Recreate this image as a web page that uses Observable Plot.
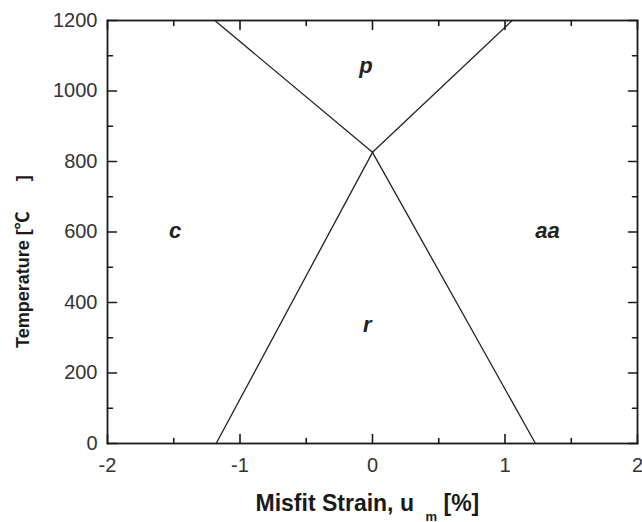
<!DOCTYPE html>
<html>
<head>
<meta charset="utf-8">
<script src="https://cdn.jsdelivr.net/npm/d3@7"></script>
<script src="https://cdn.jsdelivr.net/npm/@observablehq/plot@0.6"></script>
<style>
  body { margin: 0; background: #fff; }
</style>
</head>
<body>
<div id="chart"></div>
<script>
// Phase boundaries of the strain–temperature phase diagram (misfit strain in %, temperature in °C)
const boundaryNames = ["c/p", "p/aa", "c/r", "r/aa"];
const boundaryStrain = [[-1.19, 0], [0, 1.054], [-1.18, 0], [0, 1.23]];
const boundaryTemp = [[1200, 826], [826, 1200], [0, 826], [826, 0]];

// Phase region labels
const phaseNames = ["p", "c", "r", "aa"];
const phaseStrain = [-0.05, -1.49, -0.04, 1.32];
const phaseTemp = [1072, 604, 335, 604];

// Axis ticks
const xMajorTicks = [-2, -1, 0, 1, 2];
const xMinorTicks = [-1.5, -0.5, 0.5, 1.5];
const yMajorTicks = [0, 200, 400, 600, 800, 1000, 1200];
const yMinorTicks = [100, 300, 500, 700, 900, 1100];

const xTitle = "Misfit Strain, u";
const xTitleSub = "m";
const xTitleUnit = "[%]";
const yTitle = "Temperature [℃\u00A0\u00A0\u00A0\u00A0\u00A0\u00A0]";

const boundaryRows = boundaryNames.flatMap((name, i) =>
  boundaryStrain[i].map((s, j) => ({boundary: name, strain: s, temp: boundaryTemp[i][j]}))
);
const phaseRows = phaseNames.map((name, i) => ({phase: name, strain: phaseStrain[i], temp: phaseTemp[i]}));

const ink = "#1a1a1a";

// plot frame size in pixels, used to turn tick lengths into domain units
const W = 642, H = 522;
const M = {left: 107, right: 5, top: 20, bottom: 79};
const xDomain = [-2, 2], yDomain = [0, 1200];
const frameW = W - M.left - M.right;
const frameH = H - M.top - M.bottom;
const perPxX = (xDomain[1] - xDomain[0]) / frameW;
const perPxY = (yDomain[1] - yDomain[0]) / frameH;
const MAJOR = 9, MINOR = 5;

// short inward tick segments on all four sides, one two-point path per tick
const tickRows = [];
const addXTicks = (ticks, len) => ticks.forEach(t => {
  tickRows.push({id: `b${t}`, x: t, y: yDomain[0]}, {id: `b${t}`, x: t, y: yDomain[0] + len * perPxY});
  tickRows.push({id: `t${t}`, x: t, y: yDomain[1]}, {id: `t${t}`, x: t, y: yDomain[1] - len * perPxY});
});
const addYTicks = (ticks, len) => ticks.forEach(t => {
  tickRows.push({id: `l${t}`, x: xDomain[0], y: t}, {id: `l${t}`, x: xDomain[0] + len * perPxX, y: t});
  tickRows.push({id: `r${t}`, x: xDomain[1], y: t}, {id: `r${t}`, x: xDomain[1] - len * perPxX, y: t});
});
addXTicks(xMajorTicks, MAJOR);
addXTicks(xMinorTicks, MINOR);
addYTicks(yMajorTicks, MAJOR);
addYTicks(yMinorTicks, MINOR);

const chart = Plot.plot({
  width: W,
  height: H,
  marginLeft: M.left,
  marginRight: M.right,
  marginTop: M.top,
  marginBottom: M.bottom,
  style: {fontFamily: "'Liberation Sans', 'Noto Sans CJK SC', Arial, sans-serif", background: "#fff", color: ink},
  x: {domain: xDomain, label: null},
  y: {domain: yDomain, label: null},
  marks: [
    Plot.frame({fill: "none", stroke: ink, strokeWidth: 1.8}),
    // tick labels
    Plot.axisX(xMajorTicks, {anchor: "bottom", tickSize: 0, tickPadding: 14, fontSize: 20, fill: "#333", tickFormat: d => String(d), label: null}),
    Plot.axisY(yMajorTicks, {anchor: "left", tickSize: 0, tickPadding: 10, fontSize: 20, fill: "#333", tickFormat: d => String(d), label: null}),
    Plot.line(tickRows, {x: "x", y: "y", z: "id", stroke: ink, strokeWidth: 1.6}),
    Plot.line(boundaryRows, {x: "strain", y: "temp", z: "boundary", stroke: "#222", strokeWidth: 1.3}),
    Plot.text(phaseRows, {x: "strain", y: "temp", text: "phase", fontSize: 22, fontStyle: "italic", fontWeight: "bold", fill: "#222"}),
    // x-axis title with subscript
    Plot.text([xTitle], {frameAnchor: "bottom", text: d => d, textAnchor: "start", lineAnchor: "bottom", dx: -117, dy: 67, fontSize: 23, fontWeight: "bold", fill: ink, style: {letterSpacing: "1.6px"}}),
    Plot.text([xTitleSub], {frameAnchor: "bottom", text: d => d, textAnchor: "start", lineAnchor: "bottom", dx: 53, dy: 77, fontSize: 13, fontWeight: "bold", fill: ink}),
    Plot.text([xTitleUnit], {frameAnchor: "bottom", text: d => d, textAnchor: "start", lineAnchor: "bottom", dx: 71, dy: 67, fontSize: 23, fontWeight: "bold", fill: ink, style: {letterSpacing: "2.5px"}}),
    // y-axis title
    Plot.text([yTitle], {frameAnchor: "left", text: d => d, rotate: -90, textAnchor: "start", lineAnchor: "bottom", dx: -79, dy: 116, fontSize: 18, fontWeight: "bold", fill: ink})
  ]
});

document.getElementById("chart").append(chart);
</script>
</body>
</html>
